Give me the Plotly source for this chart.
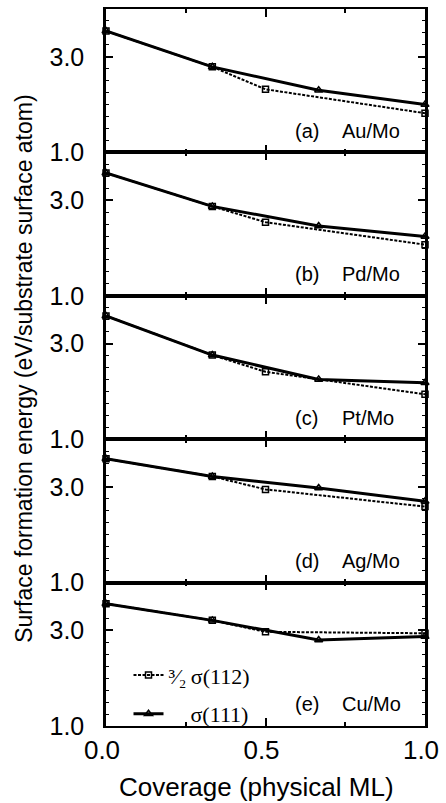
import plotly.graph_objects as go
from plotly.subplots import make_subplots

# ---- data ----
coverage_111 = [0.0, 1/3, 2/3, 1.0]
coverage_112 = [0.0, 1/3, 0.5, 1.0]

systems = ["Au/Mo", "Pd/Mo", "Pt/Mo", "Ag/Mo", "Cu/Mo"]
panel_tags = ["(a)", "(b)", "(c)", "(d)", "(e)"]

# sigma(111) values per system (eV / substrate surface atom)
sigma111_au = [3.54, 2.79, 2.30, 2.00]
sigma111_pd = [3.57, 2.87, 2.46, 2.24]
sigma111_pt = [3.58, 2.76, 2.25, 2.18]
sigma111_ag = [3.59, 3.22, 2.98, 2.70]
sigma111_cu = [3.56, 3.21, 2.80, 2.87]

# 3/2 sigma(112) values per system
sigma112_au = [3.54, 2.79, 2.32, 1.82]
sigma112_pd = [3.57, 2.87, 2.54, 2.07]
sigma112_pt = [3.58, 2.76, 2.41, 1.94]
sigma112_ag = [3.59, 3.22, 2.95, 2.59]
sigma112_cu = [3.56, 3.21, 2.97, 2.94]

sigma111 = [sigma111_au, sigma111_pd, sigma111_pt, sigma111_ag, sigma111_cu]
sigma112 = [sigma112_au, sigma112_pd, sigma112_pt, sigma112_ag, sigma112_cu]

x_tickvals = [0.0, 0.5, 1.0]
x_ticktext = ["0.0", "0.5", "1.0"]
y_tickvals = [1.0, 3.0]
y_ticktext = ["1.0", "3.0"]

# ---- figure ----
W, H = 446, 803
ML, MR, MT, MB = 106, 14, 7, 77
PW, PH = W - ML - MR, H - MT - MB

def px_x(px):
    return (px - ML) / PW

def px_y(py):
    return (H - MB - py) / PH

fig = make_subplots(rows=5, cols=1, shared_xaxes=False, vertical_spacing=0)

SANS = "Liberation Sans, Arial, sans-serif"
SERIF = "Liberation Serif, Times New Roman, serif"
PAD = "\u00a0" * 4

for i in range(5):
    r = i + 1
    fig.add_trace(go.Scatter(
        x=coverage_112, y=sigma112[i], mode="lines+markers",
        name="\u00b3\u2044\u2082\u2009σ(112)", legend="legend",
        showlegend=(i == 4),
        line=dict(color="black", width=2, dash="3px,1.5px"),
        marker=dict(symbol="square-open", size=6, color="black",
                    line=dict(width=1.5, color="black")),
        cliponaxis=False,
    ), row=r, col=1)
    fig.add_trace(go.Scatter(
        x=coverage_111, y=sigma111[i], mode="lines+markers",
        name=PAD + "σ(111)", legend="legend2",
        showlegend=(i == 4),
        line=dict(color="black", width=3),
        marker=dict(symbol="triangle-up-open", size=7, color="black",
                    line=dict(width=1.5, color="black")),
        cliponaxis=False,
    ), row=r, col=1)

fig.update_xaxes(
    range=[0, 1], tickvals=x_tickvals, ticktext=x_ticktext,
    ticks="inside", ticklen=8, tickwidth=1.5, tickcolor="black",
    minor=dict(dtick=0.25, ticks="inside", ticklen=4, tickwidth=1.5, tickcolor="black"),
    showline=True, linewidth=1.5, linecolor="black", mirror="ticks",
    showgrid=False, zeroline=False,
    tickfont=dict(family=SANS, size=26, color="black"),
    ticklabeloverflow="allow", ticklabelshift=-4,
)
for r in range(1, 5):
    fig.update_xaxes(showticklabels=False, row=r, col=1)

fig.update_yaxes(
    range=[1, 4], tickvals=y_tickvals, ticktext=y_ticktext,
    ticks="inside", ticklen=7, tickwidth=1.5, tickcolor="black",
    minor=dict(dtick=0.25, ticks="inside", ticklen=3.5, tickwidth=1.2, tickcolor="black"),
    showline=True, linewidth=2.5, linecolor="black", mirror="ticks",
    showgrid=False, zeroline=False,
    tickfont=dict(family=SANS, size=25, color="black"),
    ticklabelstandoff=14,
)

annotations = []
for i in range(5):
    yref = "y domain" if i == 0 else f"y{i+1} domain"
    annotations.append(dict(text=panel_tags[i], xref="paper", yref=yref,
                            x=px_x(297), y=0.15, xanchor="left", yanchor="middle",
                            showarrow=False, font=dict(family=SANS, size=20, color="black")))
    annotations.append(dict(text=systems[i], xref="paper", yref=yref,
                            x=px_x(345), y=0.15, xanchor="left", yanchor="middle",
                            showarrow=False, font=dict(family=SANS, size=20, color="black")))

annotations.append(dict(text="Surface formation energy (eV/substrate surface atom)",
                        xref="paper", yref="paper", x=px_x(22), y=px_y(368),
                        textangle=-90, showarrow=False, xanchor="center", yanchor="middle",
                        font=dict(family=SANS, size=23, color="black")))
annotations.append(dict(text="Coverage (physical ML)",
                        xref="paper", yref="paper", x=px_x(260), y=px_y(787),
                        showarrow=False, xanchor="center", yanchor="middle",
                        font=dict(family=SANS, size=26, color="black")))

leg_common = dict(xanchor="left", yanchor="middle", bgcolor="rgba(0,0,0,0)",
                  font=dict(family=SERIF, size=22, color="black"))
fig.update_layout(
    width=W, height=H,
    margin=dict(l=ML, r=MR, t=MT, b=MB),
    paper_bgcolor="white", plot_bgcolor="white",
    annotations=annotations,
    legend=dict(x=px_x(129), y=px_y(675), **leg_common),
    legend2=dict(x=px_x(129), y=px_y(714), **leg_common),
)

fig.write_html("out.html", config={"displayModeBar": False},
               post_script="document.body.style.margin='0px';")
